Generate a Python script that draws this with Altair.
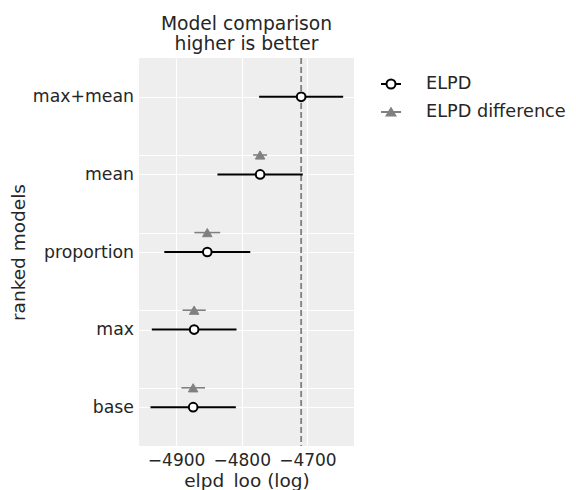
import altair as alt
import pandas as pd

# ---- data ----
models = ["max+mean", "mean", "proportion", "max", "base"]
elpd = [-4709.5, -4772.0, -4852.5, -4872.5, -4874.0]
elpd_se = [64.0, 65.0, 65.5, 64.5, 65.0]
diff_se = [10.6, 19.7, 17.7, 18.0]          # for models[1:]
x_ticks = [-4900, -4800, -4700]
series_names = ["ELPD", "ELPD difference"]

TXT = "#262626"
GREY = "#808080"
FONT = "DejaVu Sans"
OFF = 0.25

df_elpd = pd.DataFrame({"model": models, "pos": list(range(len(models))),
                        "x": elpd, "se": elpd_se})
df_diff = pd.DataFrame({"model": models[1:], "pos": [i - OFF for i in range(1, len(models))],
                        "x": elpd[1:], "se": diff_se})
best = pd.DataFrame({"best": [elpd[0]]})
leg = pd.DataFrame({"series": series_names, "x": [-5100, -5100], "pos": [0, 0]})

label_expr = " : ".join(f"datum.value == {i} ? '{m}'" for i, m in enumerate(models)) + " : ''"
y_vals = sorted([float(i) for i in range(len(models))] + [i - OFF for i in range(1, len(models))])

xscale = alt.Scale(domain=[-4956.5, -4629], nice=False, zero=False)
yscale = alt.Scale(domain=[-0.5, len(models) - 0.5], reverse=True, nice=False, zero=False)

xaxis = alt.Axis(values=x_ticks, format="d", title="elpd_loo (log)", grid=True,
                 gridColor="white", gridWidth=1.2, ticks=False, domain=False,
                 labelFontSize=17, labelColor=TXT, labelFont=FONT, labelPadding=6,
                 titleFontSize=18.5, titleFont=FONT, titleFontWeight="normal", titleColor=TXT,
                 titleBaseline="alphabetic", titleY=40, titleX=107.5, titleAlign="center")
yaxis = alt.Axis(values=y_vals, labelExpr=label_expr, title="ranked models", grid=True,
                 gridColor="white", gridWidth=1.2, ticks=False, domain=False, labelOverlap=False,
                 labelFontSize=17.3, labelColor=TXT, labelFont=FONT, labelPadding=5.5,
                 titleFontSize=18.5, titleFont=FONT, titleFontWeight="normal", titleColor=TXT,
                 titleAngle=270, titleBaseline="alphabetic", titleX=-115, titleY=194,
                 titleAlign="center")

X = lambda f: alt.X(f, scale=xscale, axis=xaxis)
Y = lambda f: alt.Y(f, scale=yscale, axis=yaxis)

dash = alt.Chart(best).mark_rule(strokeDash=[6, 3], color=GREY, strokeWidth=1.8).encode(x=X("best:Q"))

def errbar(df, color, width):
    return alt.Chart(df).transform_calculate(
        lo="datum.x - datum.se", hi="datum.x + datum.se"
    ).mark_rule(color=color, strokeWidth=width).encode(x=X("lo:Q"), x2="hi:Q", y=Y("pos:Q"))

bars_elpd = errbar(df_elpd, "black", 2)
bars_diff = errbar(df_diff, GREY, 1.6)

circles = alt.Chart(df_elpd).mark_point(shape="circle", size=75, fill="white", stroke="black",
                                        strokeWidth=2, opacity=1, fillOpacity=1).encode(
    x=X("x:Q"), y=Y("pos:Q"))
triangles = alt.Chart(df_diff).mark_point(shape="triangle-up", size=90, fill=GREY, stroke=GREY,
                                          strokeWidth=1, opacity=1, fillOpacity=1).encode(
    x=X("x:Q"), y=Y("pos:Q"))

path_elpd = "M-1,0H-0.45M0.45,0H1M0.45,0A0.45,0.45,0,1,1,-0.45,0A0.45,0.45,0,1,1,0.45,0Z"
path_diff = "M-1,0H1M0,-0.36L0.42,0.34L-0.42,0.34Z"

legend = alt.Legend(
    title=None, orient="none", legendX=241, legendY=15,
    labelFontSize=17.7, labelFont=FONT, labelColor=TXT, labelOffset=24,
    symbolSize=400, symbolStrokeWidth=2, rowPadding=8, padding=0, labelLimit=300,
)

legend_layer = alt.Chart(leg).mark_point(clip=True, size=400, strokeWidth=2, opacity=1,
                                         fillOpacity=1).encode(
    x=X("x:Q"), y=Y("pos:Q"),
    shape=alt.Shape("series:N", scale=alt.Scale(domain=series_names, range=[path_elpd, path_diff]), legend=legend),
    fill=alt.Fill("series:N", scale=alt.Scale(domain=series_names, range=["white", GREY]), legend=legend),
    stroke=alt.Stroke("series:N", scale=alt.Scale(domain=series_names, range=["black", GREY]), legend=legend),
)

chart = alt.layer(dash, bars_diff, bars_elpd, triangles, circles, legend_layer).properties(
    width=215, height=388,
    background="white",
    title=alt.Title(["Model comparison", "higher is better"], fontSize=18.7, font=FONT,
                    fontWeight="normal", color=TXT, anchor="middle", lineHeight=20.7,
                    baseline="bottom", offset=4, dy=20),
    autosize=alt.AutoSizeParams(type="none"),
    padding={"left": 131, "top": 50, "right": 214, "bottom": 44},
).configure_view(fill="#EEEEEE", stroke=None)

chart.save("out.html", embed_options={"renderer": "svg", "actions": False})
